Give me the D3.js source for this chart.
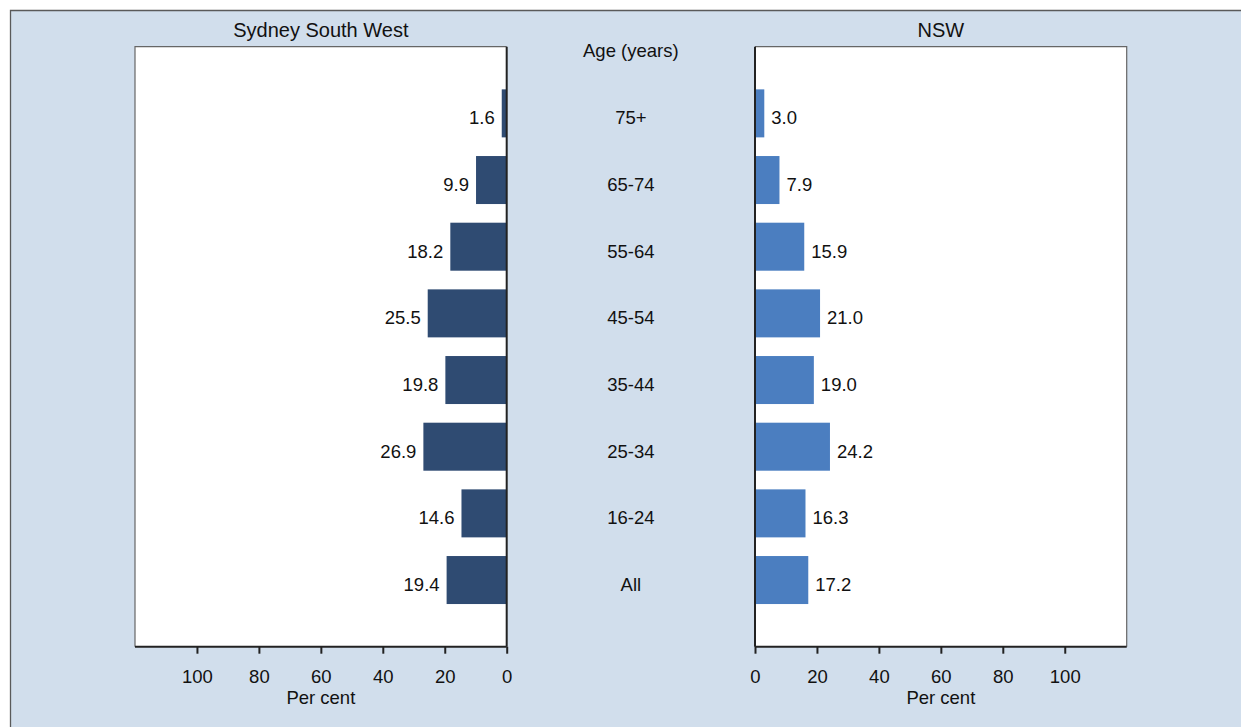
<!DOCTYPE html>
<html>
<head>
<meta charset="utf-8">
<script src="https://cdn.jsdelivr.net/npm/d3@7"></script>
<style>
  html, body { margin: 0; padding: 0; background: #ffffff; overflow: hidden; }
  svg { display: block; font-family: "Liberation Sans", Arial, sans-serif; }
</style>
</head>
<body>
<svg id="chart" width="1241" height="727"></svg>
<script>
// Age groups, top to bottom
const ageGroups = ["75+", "65-74", "55-64", "45-54", "35-44", "25-34", "16-24", "All"];
// Per cent of each age group
const sydneySouthWest = [1.6, 9.9, 18.2, 25.5, 19.8, 26.9, 14.6, 19.4];
const nswValues = [3.0, 7.9, 15.9, 21.0, 19.0, 24.2, 16.3, 17.2];
const tickValues = [0, 20, 40, 60, 80, 100];
const panelTitles = ["Sydney South West", "NSW"];
const centreTitle = "Age (years)";
const axisTitle = "Per cent";

const bg = "#d1deec";
const leftColour = "#2f4b72";
const rightColour = "#4b7ec0";
const fmt = d3.format(".1f");

const svg = d3.select("#chart");

// background panel; its frame shows only on the top and left edges
svg.append("rect")
  .attr("x", 10).attr("y", 10)
  .attr("width", 1231).attr("height", 717)
  .attr("fill", bg);
svg.append("path")
  .attr("d", "M10.5,727V10.5H1241")
  .attr("fill", "none").attr("stroke", "#5a5a5a").attr("stroke-width", 1.3);

const plotTop = 46.7, plotBottom = 646.7;
const y = d3.scalePoint().domain(ageGroups).range([plotTop, plotBottom]).padding(1);
const bandH = 48;

const xL = d3.scaleLinear().domain([0, 120]).range([506.7, 135]);
const xR = d3.scaleLinear().domain([0, 120]).range([755, 1126.7]);

function panel(x, values, colour, title, side) {
  const [r0, r1] = x.range();
  const left = Math.min(r0, r1), right = Math.max(r0, r1);

  // plot area
  svg.append("rect")
    .attr("x", left).attr("y", plotTop)
    .attr("width", right - left).attr("height", plotBottom - plotTop)
    .attr("fill", "#ffffff");

  // light border on the outer and top edges
  const outerX = side === "left" ? left : right;
  svg.append("path")
    .attr("d", `M${outerX},${plotBottom}V${plotTop}H${side === "left" ? right : left}`)
    .attr("fill", "none").attr("stroke", "#666").attr("stroke-width", 1.2);

  // bars
  svg.append("g").selectAll("rect")
    .data(ageGroups)
    .join("rect")
    .attr("x", (d, i) => Math.min(x(0), x(values[i])))
    .attr("y", d => y(d) - bandH / 2)
    .attr("width", (d, i) => Math.abs(x(values[i]) - x(0)))
    .attr("height", bandH)
    .attr("fill", colour);

  // value labels
  svg.append("g").selectAll("text")
    .data(ageGroups)
    .join("text")
    .attr("x", (d, i) => x(values[i]) + (side === "left" ? -7 : 7))
    .attr("y", d => y(d) + 11)
    .attr("text-anchor", side === "left" ? "end" : "start")
    .attr("font-size", 18.5)
    .attr("fill", "#111")
    .text((d, i) => fmt(values[i]));

  // vertical axis line at zero
  svg.append("line")
    .attr("x1", x(0)).attr("x2", x(0))
    .attr("y1", plotTop).attr("y2", plotBottom)
    .attr("stroke", "#222").attr("stroke-width", 2);

  // bottom axis
  const ax = svg.append("g")
    .attr("transform", `translate(0,${plotBottom})`)
    .call(d3.axisBottom(x).tickValues(tickValues).tickSize(7).tickPadding(16.6).tickSizeOuter(0));
  ax.select(".domain").remove();
  ax.append("line")
    .attr("x1", left).attr("x2", right)
    .attr("stroke", "#222").attr("stroke-width", 2);
  ax.selectAll(".tick line").attr("stroke", "#222").attr("stroke-width", 2);
  ax.selectAll(".tick text")
    .attr("font-size", 18.5).attr("fill", "#111")
    .attr("font-family", "Liberation Sans, Arial, sans-serif");

  // axis title
  svg.append("text")
    .attr("x", x(60)).attr("y", 704)
    .attr("text-anchor", "middle")
    .attr("font-size", 18.5).attr("fill", "#111")
    .text(axisTitle);

  // panel title
  svg.append("text")
    .attr("x", (left + right) / 2).attr("y", 37)
    .attr("text-anchor", "middle")
    .attr("font-size", 20).attr("fill", "#111")
    .text(title);
}

panel(xL, sydneySouthWest, leftColour, panelTitles[0], "left");
panel(xR, nswValues, rightColour, panelTitles[1], "right");

// centre column: age labels
const midX = (xL(0) + xR(0)) / 2;
svg.append("text")
  .attr("x", midX).attr("y", 56.5)
  .attr("text-anchor", "middle")
  .attr("font-size", 18.5).attr("fill", "#111")
  .text(centreTitle);

svg.append("g").selectAll("text")
  .data(ageGroups)
  .join("text")
  .attr("x", midX)
  .attr("y", d => y(d) + 11)
  .attr("text-anchor", "middle")
  .attr("font-size", 18.5).attr("fill", "#111")
  .text(d => d);
</script>
</body>
</html>
